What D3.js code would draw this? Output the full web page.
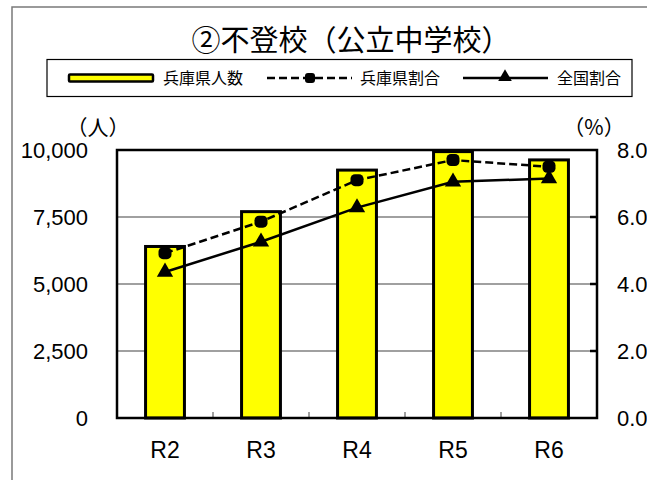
<!DOCTYPE html>
<html>
<head>
<meta charset="utf-8" />
<script src="https://d3js.org/d3.v7.min.js"></script>
<style>
  body { margin: 0; background: #fff; }
  svg { display: block; }
  .tick text { font-family: "Liberation Sans", Arial, sans-serif; fill: #000; }
</style>
</head>
<body>
<svg width="647" height="480"></svg>
<script>
// data
const years = ["R2", "R3", "R4", "R5", "R6"];
const hyogoCount = [6400, 7700, 9250, 9940, 9630];
const hyogoRate = [4.92, 5.86, 7.10, 7.70, 7.50];
const nationalRate = [4.36, 5.26, 6.28, 7.05, 7.15];
const leftTicks = [0, 2500, 5000, 7500, 10000];
const rightTicks = [0, 2, 4, 6, 8];

const svg = d3.select("svg");
const jp = "'Noto Sans CJK JP', sans-serif";

const plot = { left: 117, right: 597, top: 150, bottom: 418 };

const x = d3.scaleBand().domain(years).range([plot.left, plot.right])
  .paddingInner(0.595).paddingOuter(0.2975);
const yL = d3.scaleLinear().domain([0, 10000]).range([plot.bottom, plot.top]);
const yR = d3.scaleLinear().domain([0, 8]).range([plot.bottom, plot.top]);
const cx = d => x(d) + x.bandwidth() / 2;

// outer frame (only left + top visible)
svg.append("path")
  .attr("d", "M12,480V7H647")
  .attr("fill", "none").attr("stroke", "#7a7a7a").attr("stroke-width", 1.5);

// title
svg.append("text")
  .attr("x", 351).attr("y", 51)
  .attr("text-anchor", "middle")
  .style("font-family", jp).style("font-size", "29px")
  .text("②不登校（公立中学校）");

// legend
const lg = svg.append("g");
lg.append("rect").attr("x", 47).attr("y", 59.5).attr("width", 585).attr("height", 37)
  .attr("fill", "#fff").attr("stroke", "#000").attr("stroke-width", 1.2);
lg.append("rect").attr("x", 69).attr("y", 74.5).attr("width", 84).attr("height", 7)
  .attr("fill", "#ffff00").attr("stroke", "#000").attr("stroke-width", 2.5).attr("rx", 1);
lg.append("line").attr("x1", 267).attr("x2", 352).attr("y1", 78).attr("y2", 78)
  .attr("stroke", "#000").attr("stroke-width", 2.5).attr("stroke-dasharray", "8,4");
lg.append("rect").attr("x", 305).attr("y", 73).attr("width", 10).attr("height", 10)
  .attr("rx", 3).attr("fill", "#000");
lg.append("line").attr("x1", 463).attr("x2", 548).attr("y1", 78).attr("y2", 78)
  .attr("stroke", "#000").attr("stroke-width", 2.5);
lg.append("path").attr("d", d3.symbol(d3.symbolTriangle, 80)())
  .attr("transform", "translate(505,77)").attr("fill", "#000");
[["兵庫県人数", 163], ["兵庫県割合", 360], ["全国割合", 557]].forEach(([t, px]) => {
  lg.append("text").attr("x", px).attr("y", 84)
    .style("font-family", jp).style("font-size", "16px").text(t);
});

// gridlines
svg.append("g").selectAll("line").data(leftTicks.slice(1, -1)).join("line")
  .attr("x1", plot.left).attr("x2", plot.right)
  .attr("y1", d => yL(d)).attr("y2", d => yL(d))
  .attr("stroke", "#808080").attr("stroke-width", 1.5);

// bars
svg.append("g").selectAll("rect").data(years).join("rect")
  .attr("x", d => x(d)).attr("width", x.bandwidth())
  .attr("y", (d, i) => yL(hyogoCount[i]))
  .attr("height", (d, i) => plot.bottom - yL(hyogoCount[i]))
  .attr("fill", "#ffff00").attr("stroke", "#000").attr("stroke-width", 3);

// category ticks (inward, on band boundaries)
const edge = d => x(d) - (x.step() - x.bandwidth()) / 2;
svg.append("g").selectAll("line").data(years.slice(1)).join("line")
  .attr("x1", edge).attr("x2", edge)
  .attr("y1", plot.bottom).attr("y2", plot.bottom - 6)
  .attr("stroke", "#808080").attr("stroke-width", 1.5);

// plot frame
svg.append("rect")
  .attr("x", plot.left).attr("y", plot.top)
  .attr("width", plot.right - plot.left).attr("height", plot.bottom - plot.top)
  .attr("fill", "none").attr("stroke", "#000").attr("stroke-width", 2.5);

// right inward ticks
svg.append("g").selectAll("line").data(rightTicks.slice(1, -1)).join("line")
  .attr("x1", plot.right - 7).attr("x2", plot.right)
  .attr("y1", d => yR(d)).attr("y2", d => yR(d))
  .attr("stroke", "#000").attr("stroke-width", 2.5);

// lines
const line = d3.line().x((d, i) => cx(years[i]));
svg.append("path").datum(hyogoRate)
  .attr("d", line.y(d => yR(d)))
  .attr("fill", "none").attr("stroke", "#000").attr("stroke-width", 2.5)
  .attr("stroke-dasharray", "8,4");
svg.append("path").datum(nationalRate)
  .attr("d", line.y(d => yR(d)))
  .attr("fill", "none").attr("stroke", "#000").attr("stroke-width", 2.5);

svg.append("g").selectAll("rect").data(hyogoRate).join("rect")
  .attr("x", (d, i) => cx(years[i]) - 6.5).attr("y", d => yR(d) - 6)
  .attr("width", 13).attr("height", 12).attr("rx", 4.5).attr("fill", "#000");
svg.append("g").selectAll("path").data(nationalRate).join("path")
  .attr("d", d3.symbol(d3.symbolTriangle, 115)())
  .attr("transform", (d, i) => `translate(${cx(years[i])},${yR(d)})`)
  .attr("fill", "#000");

// axes
const axL = svg.append("g").attr("transform", `translate(${plot.left},0)`)
  .call(d3.axisLeft(yL).tickValues(leftTicks).tickSize(0).tickPadding(29)
    .tickFormat(d3.format(",")));
axL.select(".domain").remove();
axL.selectAll("text").style("font-size", "22px");

const axR = svg.append("g").attr("transform", `translate(${plot.right},0)`)
  .call(d3.axisRight(yR).tickValues(rightTicks).tickSize(0).tickPadding(20)
    .tickFormat(d3.format(".1f")));
axR.select(".domain").remove();
axR.selectAll("text").style("font-size", "22px");

const axB = svg.append("g").attr("transform", `translate(0,${plot.bottom})`)
  .call(d3.axisBottom(x).tickSize(0).tickPadding(24));
axB.select(".domain").remove();
axB.selectAll("text").style("font-size", "23px");

// unit labels
svg.append("text").attr("x", 98).attr("y", 135).attr("text-anchor", "middle")
  .style("font-family", jp).style("font-size", "21px").text("（人）");
svg.append("text").attr("x", 594).attr("y", 135).attr("text-anchor", "middle")
  .style("font-family", jp).style("font-size", "21px").text("（%）");
</script>
</body>
</html>
